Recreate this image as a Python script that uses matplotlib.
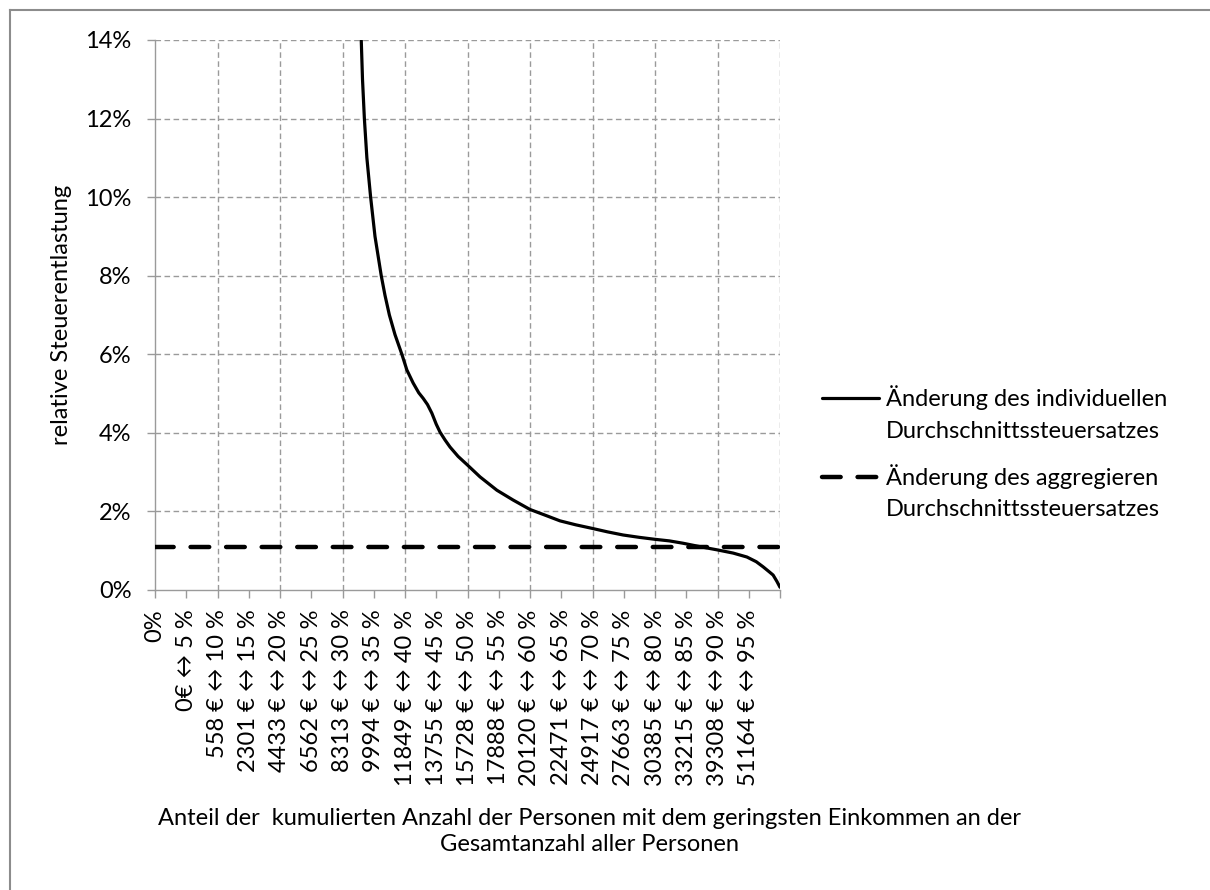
import matplotlib
matplotlib.use("Agg")
import matplotlib.pyplot as plt
from matplotlib.lines import Line2D
from matplotlib.legend_handler import HandlerLine2D
from matplotlib.ticker import FuncFormatter, MultipleLocator

plt.rcParams['font.family'] = ['Lato', 'DejaVu Sans']

# --- data -------------------------------------------------------------
share_pct = [32.6, 33.0, 33.2, 33.5, 33.9, 34.5, 35.2, 36.2, 36.8, 37.5, 38.4, 39.5,
             40.3, 41.3, 42.2, 42.9, 43.6, 44.3, 45.0, 45.6, 46.4, 47.2, 48.5,
             50.0, 52.0, 54.7, 57.3, 60.0, 62.5, 64.8, 67.3, 69.9, 72.4, 74.9,
             77.5, 80.0, 82.3, 84.5, 87.3, 90.0, 92.5, 94.7, 96.2, 97.3, 98.3,
             98.9, 99.5, 100.0]
relief_indiv = [15.0, 14.0, 13.0, 12.0, 11.0, 10.0, 9.0, 8.0, 7.5, 7.0, 6.5, 6.0,
                5.6, 5.27, 5.02, 4.88, 4.72, 4.50, 4.22, 4.02, 3.82, 3.64, 3.40,
                3.18, 2.88, 2.54, 2.29, 2.05, 1.90, 1.76, 1.66, 1.57, 1.48, 1.40,
                1.34, 1.29, 1.25, 1.19, 1.10, 1.02, 0.94, 0.84, 0.72, 0.59, 0.46,
                0.38, 0.22, 0.07]
relief_aggr = 1.1

tick_pcts = list(range(0, 100, 5))
incomes = ["0€", "558 €", "2301 €", "4433 €", "6562 €", "8313 €", "9994 €",
           "11849 €", "13755 €", "15728 €", "17888 €", "20120 €", "22471 €",
           "24917 €", "27663 €", "30385 €", "33215 €", "39308 €", "51164 €"]
tick_labels = ["0%"] + [f"{inc} ↔ {p} %" for inc, p in zip(incomes, tick_pcts[1:])]

legend_labels = ["Änderung des individuellen\nDurchschnittssteuersatzes",
                 "Änderung des aggregieren\nDurchschnittssteuersatzes"]
ylabel = "relative Steuerentlastung"
xlabel = ("Anteil der  kumulierten Anzahl der Personen mit dem geringsten Einkommen an der\n"
          "Gesamtanzahl aller Personen")


class TopLineHandler(HandlerLine2D):
    """Legend line aligned with the first text line of a two-line label."""
    def __init__(self, shift, **kw):
        super().__init__(**kw)
        self.shift = shift

    def create_artists(self, legend, orig_handle, xdescent, ydescent, width,
                       height, fontsize, trans):
        arts = super().create_artists(legend, orig_handle, xdescent, ydescent,
                                      width, height, fontsize, trans)
        for a in arts:
            if isinstance(a, Line2D):
                a.set_ydata([y + self.shift for y in a.get_ydata()])
        return arts


# --- figure -------------------------------------------------------------
W, H = 1210, 890
fig = plt.figure(figsize=(W / 100, H / 100), dpi=100)
ax = fig.add_axes([155 / W, 1 - 590 / H, (780 - 155) / W, (590 - 40) / H])

FS = 17
grid_c = '#9a9a9a'

l1, = ax.plot(share_pct, relief_indiv, color='black', lw=2.3, solid_capstyle='round',
              solid_joinstyle='round', label=legend_labels[0], zorder=3)
l2, = ax.plot([0, 100], [relief_aggr, relief_aggr], color='black', lw=3.2,
              dashes=(4.2, 3.8), dash_capstyle='round', label=legend_labels[1], zorder=3)

ax.set_xlim(0, 100)
ax.set_ylim(0, 14)

ax.yaxis.set_major_locator(MultipleLocator(2))
ax.yaxis.set_major_formatter(FuncFormatter(lambda v, p: f"{v:.0f}%"))
ax.set_xticks(list(range(0, 101, 5)))
ax.set_xticklabels(tick_labels + [""], rotation=90, fontsize=FS, va='top', ha='center')
ax.tick_params(axis='y', labelsize=FS, length=6, width=1, color=grid_c, pad=11)
ax.tick_params(axis='x', length=6, width=1, color=grid_c, pad=8)

for v in range(2, 15, 2):
    ax.axhline(v, color=grid_c, lw=1, ls=(0, (4, 2.5)), zorder=1)
for v in range(10, 101, 10):
    ax.axvline(v, color=grid_c, lw=1, ls=(0, (4, 2.5)), zorder=1)

for s in ['top', 'right']:
    ax.spines[s].set_visible(False)
for s in ['left', 'bottom']:
    ax.spines[s].set_color(grid_c)
    ax.spines[s].set_linewidth(1)

ax.set_ylabel(ylabel, fontsize=FS)
ax.yaxis.set_label_coords(-0.133, 0.5)

fig.text(590 / W, 1 - 808 / H, xlabel, fontsize=FS, ha='center', va='top',
         linespacing=1.3)

shift_pt = 11.5
leg = fig.legend(handles=[l1, l2], loc='upper left',
                 bbox_to_anchor=(801 / W, 1 - 364 / H),
                 frameon=False, fontsize=FS, handlelength=2.4, handletextpad=0.3,
                 labelspacing=0.95,
                 handler_map={l1: TopLineHandler(shift_pt), l2: TopLineHandler(shift_pt)})
for t in leg.get_texts():
    t.set_linespacing(1.62)

# border of the chart area
fig.add_artist(Line2D([10 / W, 10 / W], [0, 1 - 10 / H], transform=fig.transFigure,
                      color='#8c8c8c', lw=1.5))
fig.add_artist(Line2D([10 / W, 1], [1 - 10 / H, 1 - 10 / H], transform=fig.transFigure,
                      color='#8c8c8c', lw=1.5))

fig.savefig("out.png", dpi=100)
